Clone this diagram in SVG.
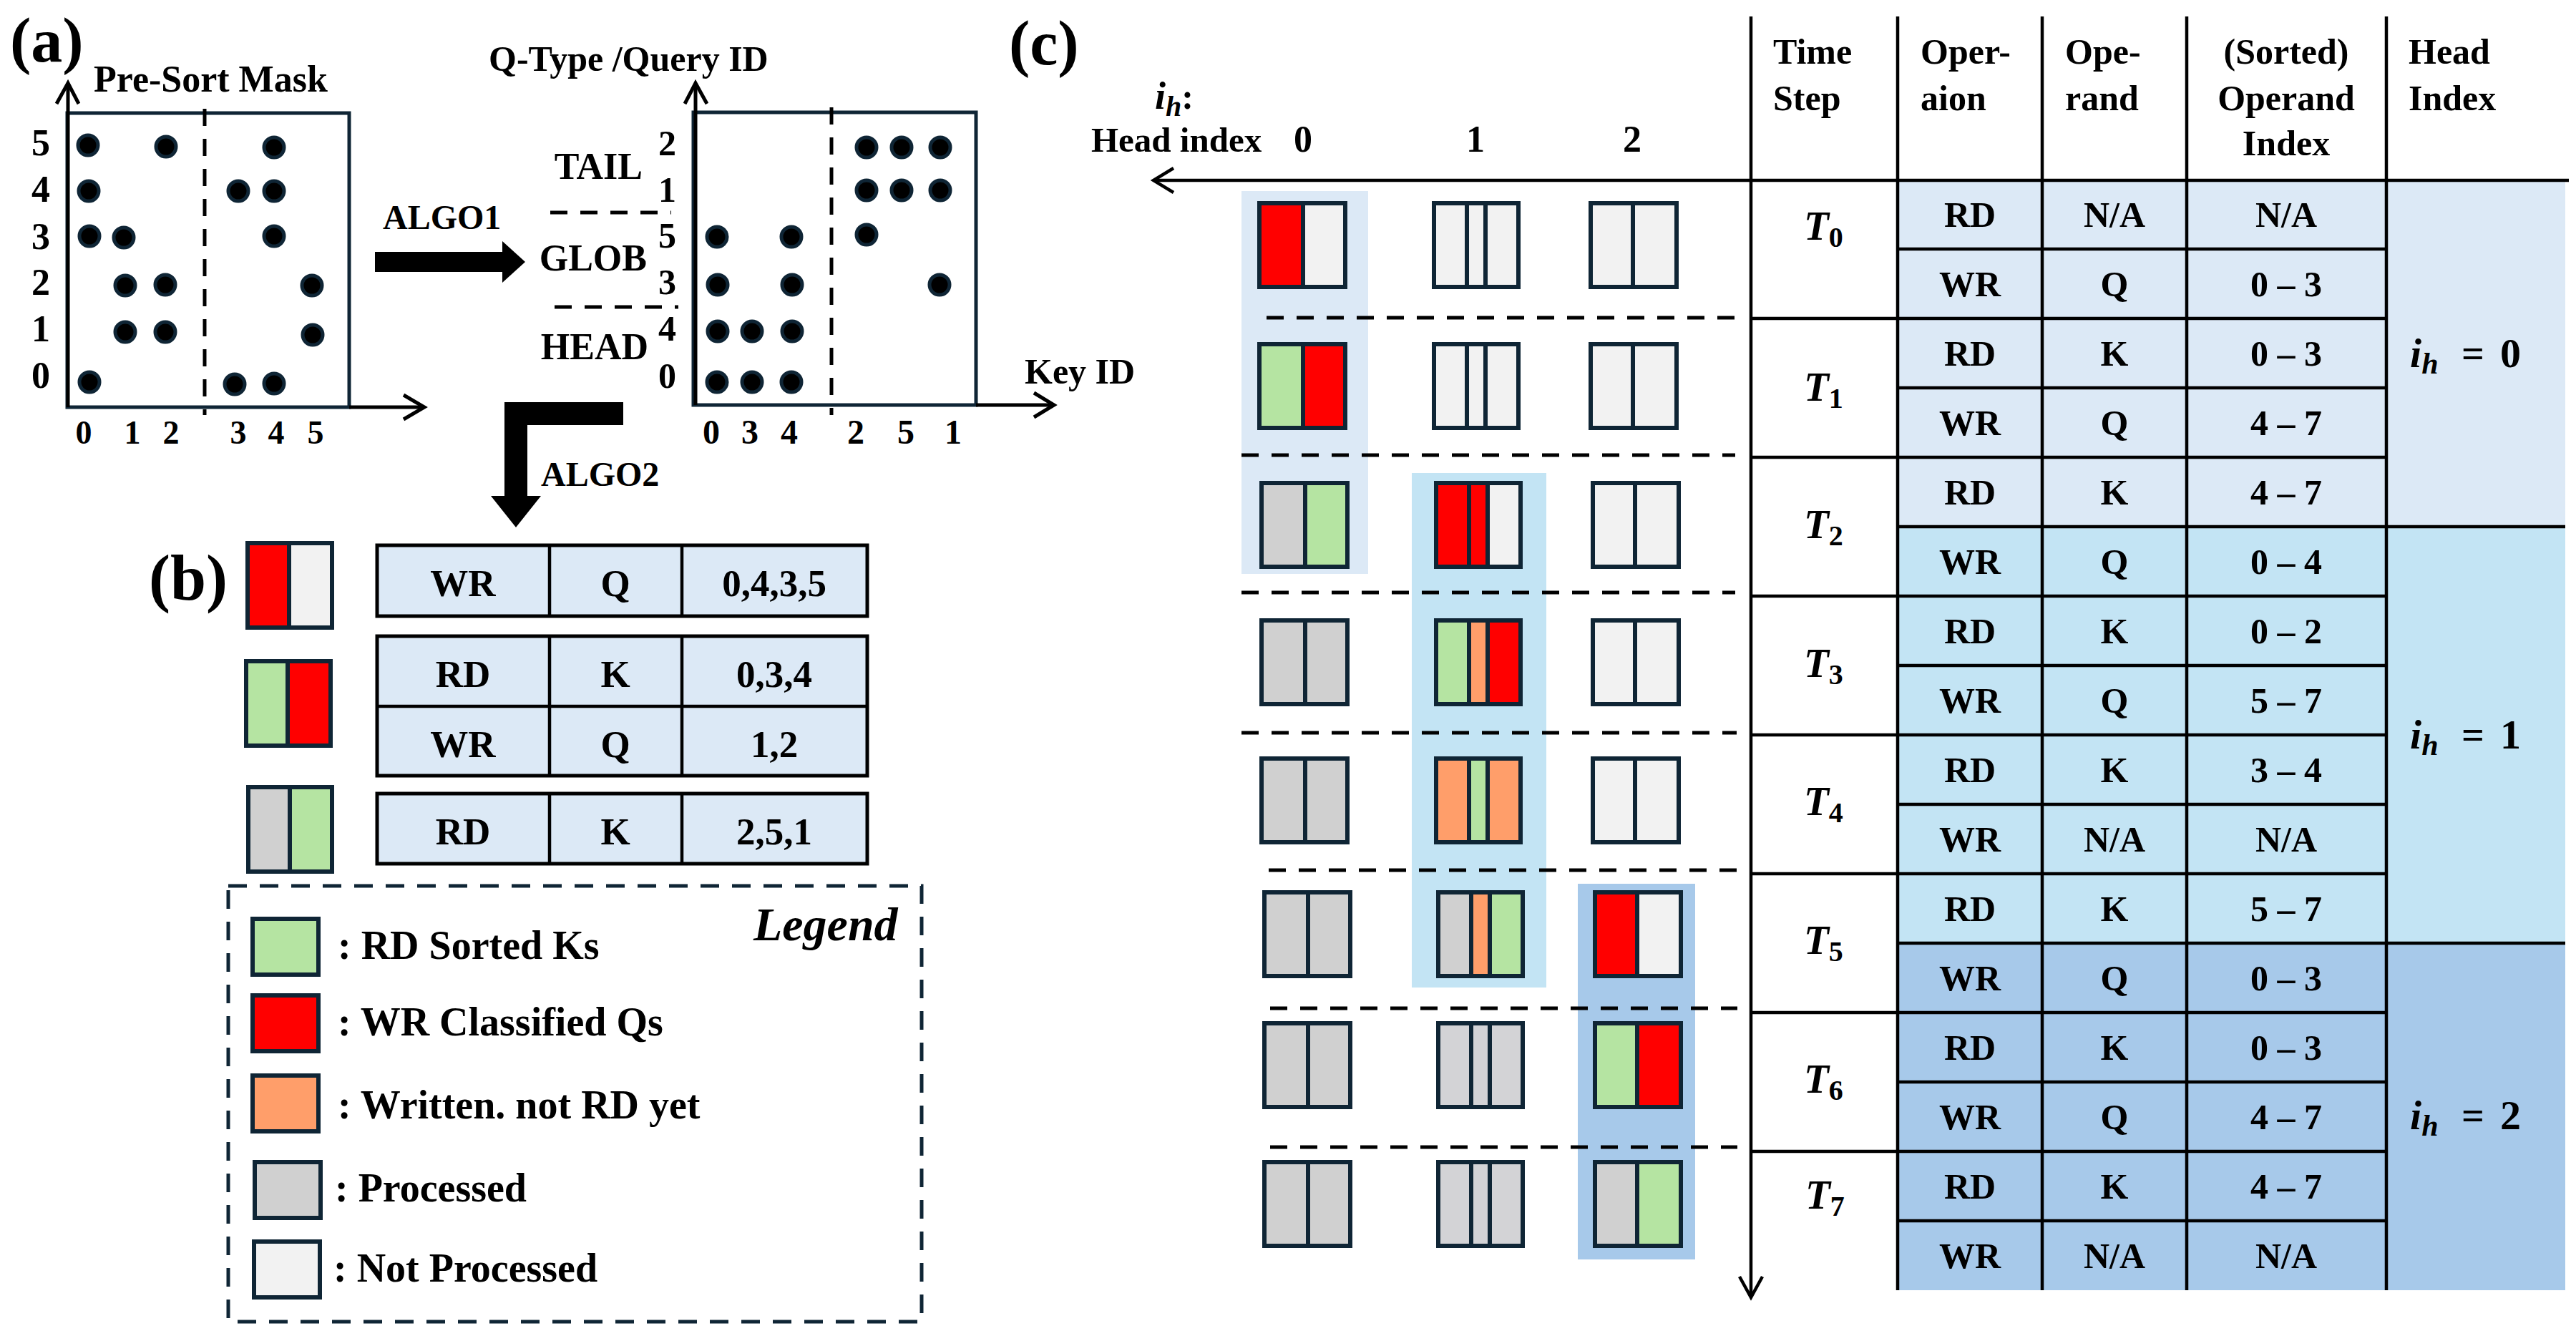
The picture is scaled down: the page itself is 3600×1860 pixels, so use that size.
<svg xmlns="http://www.w3.org/2000/svg" width="3600" height="1860" viewBox="0 0 3600 1860">
<style>
.t{font-family:"Liberation Serif","Times New Roman",serif;font-weight:bold;fill:#000}
.it{font-style:italic}
.m{text-anchor:middle}
.e{text-anchor:end}
.ax{stroke:#000;stroke-width:5;fill:none}
.box{stroke:#0f2535;stroke-width:5;fill:none}
.dash{stroke:#000;stroke-width:5;stroke-dasharray:24 18;fill:none}
.dot{fill:#000;stroke:#0f2535;stroke-width:5}
.cb{stroke:#0f2535;stroke-width:6;fill:none}
.R{fill:#ff0000}.L{fill:#f2f2f2}.G{fill:#b5e4a2}.O{fill:#ff9e6a}.Y{fill:#d0d0d0}
.tl{stroke:#000;stroke-width:4.5;fill:none}
.b1{fill:#dce9f6}.b2{fill:#c3e4f4}.b3{fill:#a7c9ea}
</style>
<rect width="3600" height="1860" fill="#fff"/>

<!-- panel labels -->
<text class="t" x="14" y="86" font-size="88">(a)</text>
<text class="t" x="208" y="838" font-size="90">(b)</text>
<text class="t" x="1410" y="90" font-size="88">(c)</text>

<!-- (a) Pre-sort mask -->
<g id="presort-mask">
<text class="t" x="131" y="128" font-size="52">Pre-Sort Mask</text>
<rect class="box" x="94" y="158" width="394" height="411"/>
<line class="ax" x1="95" y1="569" x2="95" y2="117"/>
<polyline class="ax" points="79,145 95,116 110,145"/>
<line class="ax" x1="488" y1="569" x2="592" y2="569"/>
<polyline class="ax" points="564,552 593,569 564,586"/>
<line class="dash" x1="286" y1="152" x2="286" y2="580"/>
<g class="t m" font-size="52">
<text x="57" y="217">5</text><text x="57" y="282">4</text><text x="57" y="348">3</text>
<text x="57" y="412">2</text><text x="57" y="477">1</text><text x="57" y="542">0</text>
</g>
<g class="t m" font-size="46">
<text x="117" y="620">0</text><text x="185" y="620">1</text><text x="239" y="620">2</text>
<text x="333" y="620">3</text><text x="386" y="620">4</text><text x="441" y="620">5</text>
</g>
<g>
<circle class="dot" cx="123" cy="203" r="14"/><circle class="dot" cx="232" cy="205" r="14"/><circle class="dot" cx="383" cy="206" r="14"/>
<circle class="dot" cx="124" cy="267" r="14"/><circle class="dot" cx="333" cy="267" r="14"/><circle class="dot" cx="383" cy="267" r="14"/>
<circle class="dot" cx="125" cy="330" r="14"/><circle class="dot" cx="173" cy="332" r="14"/><circle class="dot" cx="383" cy="330" r="14"/>
<circle class="dot" cx="175" cy="399" r="14"/><circle class="dot" cx="231" cy="398" r="14"/><circle class="dot" cx="436" cy="399" r="14"/>
<circle class="dot" cx="175" cy="464" r="14"/><circle class="dot" cx="231" cy="464" r="14"/><circle class="dot" cx="437" cy="468" r="14"/>
<circle class="dot" cx="125" cy="534" r="14"/><circle class="dot" cx="328" cy="537" r="14"/><circle class="dot" cx="383" cy="536" r="14"/>
</g>
</g>

<!-- (a) sorted mask -->
<g id="sorted-mask">
<text class="t" x="683" y="99" font-size="50">Q-Type /Query ID</text>
<rect class="box" x="969" y="157" width="395" height="409"/>
<line class="ax" x1="972" y1="566" x2="972" y2="117"/>
<polyline class="ax" points="957,145 972,116 988,145"/>
<line class="ax" x1="1364" y1="566" x2="1472" y2="566"/>
<polyline class="ax" points="1445,549 1473,566 1445,583"/>
<line class="dash" x1="1162" y1="150" x2="1162" y2="580"/>
<text class="t" x="1432" y="536" font-size="50">Key ID</text>
<line class="dash" x1="769" y1="297" x2="938" y2="297" stroke-dasharray="6 18 24 18 24 18 24 18 24 18"/>
<line class="dash" x1="775" y1="429" x2="948" y2="429" stroke-dasharray="6 18 24 18 24 18 24 18 24 18"/>
<text class="t e" x="898" y="250" font-size="52">TAIL</text>
<text class="t e" x="904" y="378" font-size="52">GLOB</text>
<text class="t e" x="906" y="502" font-size="52">HEAD</text>
<g class="t e" font-size="50">
<text x="945" y="217">2</text><text x="945" y="282">1</text><text x="945" y="346">5</text>
<text x="945" y="411">3</text><text x="945" y="476">4</text><text x="945" y="542">0</text>
</g>
<g class="t m" font-size="48">
<text x="994" y="620">0</text><text x="1048" y="620">3</text><text x="1103" y="620">4</text>
<text x="1196" y="620">2</text><text x="1266" y="620">5</text><text x="1332" y="620">1</text>
</g>
<g>
<circle class="dot" cx="1211" cy="206" r="14"/><circle class="dot" cx="1260" cy="206" r="14"/><circle class="dot" cx="1314" cy="206" r="14"/>
<circle class="dot" cx="1211" cy="266" r="14"/><circle class="dot" cx="1260" cy="266" r="14"/><circle class="dot" cx="1314" cy="266" r="14"/>
<circle class="dot" cx="1002" cy="331" r="14"/><circle class="dot" cx="1106" cy="331" r="14"/><circle class="dot" cx="1211" cy="328" r="14"/>
<circle class="dot" cx="1003" cy="398" r="14"/><circle class="dot" cx="1107" cy="398" r="14"/><circle class="dot" cx="1313" cy="398" r="14"/>
<circle class="dot" cx="1003" cy="463" r="14"/><circle class="dot" cx="1051" cy="463" r="14"/><circle class="dot" cx="1107" cy="463" r="14"/>
<circle class="dot" cx="1002" cy="534" r="14"/><circle class="dot" cx="1051" cy="534" r="14"/><circle class="dot" cx="1106" cy="534" r="14"/>
</g>
</g>

<!-- block arrows -->
<g id="connectors">
<polygon fill="#000" points="524,352 702,352 702,337 734,366 702,395 702,380 524,380"/>
<text class="t" x="535" y="320" font-size="48">ALGO1</text>
<polygon fill="#000" points="871,562 705,562 705,693 686,693 721,737 756,693 737,693 737,594 871,594"/>
<text class="t" x="756" y="679" font-size="48">ALGO2</text>
</g>

<!-- (b) -->
<g id="b-row1">
<rect class="R" x="346" y="759" width="58" height="118"/><rect class="L" x="404" y="759" width="60" height="118"/>
<rect class="cb" x="346" y="759" width="118" height="118"/><line class="cb" x1="404" y1="759" x2="404" y2="877"/>
<rect class="b1" x="527" y="762" width="685" height="99" stroke="#000" stroke-width="5"/>
<line class="tl" x1="768" y1="762" x2="768" y2="861"/><line class="tl" x1="953" y1="762" x2="953" y2="861"/>
<g class="t m" font-size="53"><text x="647" y="833">WR</text><text x="860" y="833">Q</text><text x="1082" y="833">0,4,3,5</text></g>
</g>
<g id="b-row2">
<rect class="G" x="344" y="924" width="58" height="118"/><rect class="R" x="402" y="924" width="60" height="118"/>
<rect class="cb" x="344" y="924" width="118" height="118"/><line class="cb" x1="402" y1="924" x2="402" y2="1042"/>
<rect class="b1" x="527" y="889" width="685" height="195" stroke="#000" stroke-width="5"/>
<line class="tl" x1="768" y1="889" x2="768" y2="1084"/><line class="tl" x1="953" y1="889" x2="953" y2="1084"/>
<line class="tl" x1="527" y1="987" x2="1212" y2="987"/>
<g class="t m" font-size="53"><text x="647" y="960">RD</text><text x="860" y="960">K</text><text x="1082" y="960">0,3,4</text>
<text x="647" y="1058">WR</text><text x="860" y="1058">Q</text><text x="1082" y="1058">1,2</text></g>
</g>
<g id="b-row3">
<rect class="Y" x="347" y="1100" width="58" height="118"/><rect class="G" x="405" y="1100" width="59" height="118"/>
<rect class="cb" x="347" y="1100" width="117" height="118"/><line class="cb" x1="405" y1="1100" x2="405" y2="1218"/>
<rect class="b1" x="527" y="1109" width="685" height="98" stroke="#000" stroke-width="5"/>
<line class="tl" x1="768" y1="1109" x2="768" y2="1207"/><line class="tl" x1="953" y1="1109" x2="953" y2="1207"/>
<g class="t m" font-size="53"><text x="647" y="1180">RD</text><text x="860" y="1180">K</text><text x="1082" y="1180">2,5,1</text></g>
</g>

<!-- legend -->
<g id="legend">
<rect x="319" y="1238" width="969" height="609" fill="none" stroke="#0f2535" stroke-width="5" stroke-dasharray="26 18"/>
<text class="t it" x="1053" y="1314" font-size="66">Legend</text>
<rect class="G" x="353" y="1284" width="92" height="78"/><rect class="cb" x="353" y="1284" width="92" height="78"/>
<rect class="R" x="353" y="1391" width="92" height="78"/><rect class="cb" x="353" y="1391" width="92" height="78"/>
<rect class="O" x="353" y="1503" width="92" height="78"/><rect class="cb" x="353" y="1503" width="92" height="78"/>
<rect class="Y" x="356" y="1624" width="92" height="78"/><rect class="cb" x="356" y="1624" width="92" height="78"/>
<rect class="L" x="355" y="1735" width="92" height="78"/><rect class="cb" x="355" y="1735" width="92" height="78"/>
<g class="t" font-size="56">
<text x="472" y="1340">: RD Sorted Ks</text>
<text x="472" y="1447">: WR Classified Qs</text>
<text x="472" y="1563">: Written. not RD yet</text>
<text x="468" y="1679">: Processed</text>
<text x="466" y="1791">: Not Processed</text>
</g>
</g>

<!-- (c) head-index grid -->
<g id="head-axis">
<text class="t it" x="1614" y="152" font-size="54">i<tspan font-size="40" dy="10">h</tspan><tspan font-style="normal" font-size="50" dy="-10">:</tspan></text>
<text class="t" x="1525" y="212" font-size="49">Head index</text>
<g class="t m" font-size="52"><text x="1821" y="212">0</text><text x="2062" y="212">1</text><text x="2281" y="212">2</text></g>
</g>
<g id="head-bands">
<rect class="b1" x="1735" y="267" width="177" height="535"/>
<rect class="b2" x="1973" y="661" width="188" height="719"/>
<rect class="b3" x="2205" y="1235" width="164" height="525"/>
</g>
<g id="step-dividers">
<line class="dash" x1="1770" y1="444" x2="2425" y2="444"/>
<line class="dash" x1="1735" y1="636" x2="2425" y2="636"/>
<line class="dash" x1="1735" y1="828" x2="2425" y2="828"/>
<line class="dash" x1="1735" y1="1024" x2="2427" y2="1024"/>
<line class="dash" x1="1773" y1="1216" x2="2428" y2="1216"/>
<line class="dash" x1="1775" y1="1409" x2="2428" y2="1409"/>
<line class="dash" x1="1775" y1="1603" x2="2428" y2="1603"/>
</g>

<g id="cells-row0">
<g transform="translate(1760,284)"><rect class="R" width="61" height="117"/><rect class="L" x="61" width="59" height="117"/><rect class="cb" width="120" height="117"/><line class="cb" x1="61" x2="61" y2="117"/></g>
<g transform="translate(2004,284)"><rect class="L" width="118" height="117"/><rect class="cb" width="118" height="117"/><line class="cb" x1="46" x2="46" y2="117"/><line class="cb" x1="72" x2="72" y2="117"/></g>
<g transform="translate(2223,284)"><rect class="L" width="120" height="117"/><rect class="cb" width="120" height="117"/><line class="cb" x1="59" x2="59" y2="117"/></g>
</g>
<g id="cells-row1">
<g transform="translate(1760,481)"><rect class="G" width="61" height="117"/><rect class="R" x="61" width="59" height="117"/><rect class="cb" width="120" height="117"/><line class="cb" x1="61" x2="61" y2="117"/></g>
<g transform="translate(2004,481)"><rect class="L" width="118" height="117"/><rect class="cb" width="118" height="117"/><line class="cb" x1="46" x2="46" y2="117"/><line class="cb" x1="72" x2="72" y2="117"/></g>
<g transform="translate(2223,481)"><rect class="L" width="120" height="117"/><rect class="cb" width="120" height="117"/><line class="cb" x1="59" x2="59" y2="117"/></g>
</g>
<g id="cells-row2">
<g transform="translate(1763,675)"><rect class="Y" width="61" height="117"/><rect class="G" x="61" width="59" height="117"/><rect class="cb" width="120" height="117"/><line class="cb" x1="61" x2="61" y2="117"/></g>
<g transform="translate(2007,675)"><rect class="R" width="72" height="117"/><rect class="L" x="72" width="46" height="117"/><rect class="cb" width="118" height="117"/><line class="cb" x1="46" x2="46" y2="117"/><line class="cb" x1="72" x2="72" y2="117"/></g>
<g transform="translate(2226,675)"><rect class="L" width="120" height="117"/><rect class="cb" width="120" height="117"/><line class="cb" x1="59" x2="59" y2="117"/></g>
</g>
<g id="cells-row3">
<g transform="translate(1763,867)"><rect class="Y" width="120" height="117"/><rect class="cb" width="120" height="117"/><line class="cb" x1="61" x2="61" y2="117"/></g>
<g transform="translate(2007,867)"><rect class="G" width="46" height="117"/><rect class="O" x="46" width="26" height="117"/><rect class="R" x="72" width="46" height="117"/><rect class="cb" width="118" height="117"/><line class="cb" x1="46" x2="46" y2="117"/><line class="cb" x1="72" x2="72" y2="117"/></g>
<g transform="translate(2226,867)"><rect class="L" width="120" height="117"/><rect class="cb" width="120" height="117"/><line class="cb" x1="59" x2="59" y2="117"/></g>
</g>
<g id="cells-row4">
<g transform="translate(1763,1060)"><rect class="Y" width="120" height="117"/><rect class="cb" width="120" height="117"/><line class="cb" x1="61" x2="61" y2="117"/></g>
<g transform="translate(2007,1060)"><rect class="O" width="46" height="117"/><rect class="G" x="46" width="26" height="117"/><rect class="O" x="72" width="46" height="117"/><rect class="cb" width="118" height="117"/><line class="cb" x1="46" x2="46" y2="117"/><line class="cb" x1="72" x2="72" y2="117"/></g>
<g transform="translate(2226,1060)"><rect class="L" width="120" height="117"/><rect class="cb" width="120" height="117"/><line class="cb" x1="59" x2="59" y2="117"/></g>
</g>
<g id="cells-row5">
<g transform="translate(1767,1247)"><rect class="Y" width="120" height="117"/><rect class="cb" width="120" height="117"/><line class="cb" x1="61" x2="61" y2="117"/></g>
<g transform="translate(2010,1247)"><rect class="Y" width="46" height="117"/><rect class="O" x="46" width="26" height="117"/><rect class="G" x="72" width="46" height="117"/><rect class="cb" width="118" height="117"/><line class="cb" x1="46" x2="46" y2="117"/><line class="cb" x1="72" x2="72" y2="117"/></g>
<g transform="translate(2229,1247)"><rect class="R" width="59" height="117"/><rect class="L" x="59" width="61" height="117"/><rect class="cb" width="120" height="117"/><line class="cb" x1="59" x2="59" y2="117"/></g>
</g>
<g id="cells-row6">
<g transform="translate(1767,1430)"><rect class="Y" width="120" height="117"/><rect class="cb" width="120" height="117"/><line class="cb" x1="61" x2="61" y2="117"/></g>
<g transform="translate(2010,1430)"><rect fill="#d3d3d6" width="118" height="117"/><rect class="cb" width="118" height="117"/><line class="cb" x1="46" x2="46" y2="117"/><line class="cb" x1="72" x2="72" y2="117"/></g>
<g transform="translate(2229,1430)"><rect class="G" width="59" height="117"/><rect class="R" x="59" width="61" height="117"/><rect class="cb" width="120" height="117"/><line class="cb" x1="59" x2="59" y2="117"/></g>
</g>
<g id="cells-row7">
<g transform="translate(1767,1624)"><rect class="Y" width="120" height="117"/><rect class="cb" width="120" height="117"/><line class="cb" x1="61" x2="61" y2="117"/></g>
<g transform="translate(2010,1624)"><rect fill="#d3d3d6" width="118" height="117"/><rect class="cb" width="118" height="117"/><line class="cb" x1="46" x2="46" y2="117"/><line class="cb" x1="72" x2="72" y2="117"/></g>
<g transform="translate(2229,1624)"><rect class="Y" width="59" height="117"/><rect class="G" x="59" width="61" height="117"/><rect class="cb" width="120" height="117"/><line class="cb" x1="59" x2="59" y2="117"/></g>
</g>

<!-- table -->
<g id="schedule-table">
<rect class="b1" x="2652" y="251" width="933" height="485"/>
<rect class="b2" x="2652" y="736" width="933" height="582"/>
<rect class="b3" x="2652" y="1318" width="933" height="485"/>
<g class="tl">
<line x1="2652" y1="23" x2="2652" y2="1803"/><line x1="2854" y1="23" x2="2854" y2="1803"/>
<line x1="3056" y1="23" x2="3056" y2="1803"/><line x1="3335" y1="23" x2="3335" y2="1803"/>
<line x1="2652" y1="348" x2="3335" y2="348"/><line x1="2447" y1="445" x2="3335" y2="445"/>
<line x1="2652" y1="542" x2="3335" y2="542"/><line x1="2447" y1="639" x2="3335" y2="639"/>
<line x1="2652" y1="736" x2="3585" y2="736"/><line x1="2447" y1="833" x2="3335" y2="833"/>
<line x1="2652" y1="930" x2="3335" y2="930"/><line x1="2447" y1="1027" x2="3335" y2="1027"/>
<line x1="2652" y1="1124" x2="3335" y2="1124"/><line x1="2447" y1="1221" x2="3335" y2="1221"/>
<line x1="2652" y1="1318" x2="3585" y2="1318"/><line x1="2447" y1="1415" x2="3335" y2="1415"/>
<line x1="2652" y1="1512" x2="3335" y2="1512"/><line x1="2447" y1="1609" x2="3335" y2="1609"/>
<line x1="2652" y1="1706" x2="3335" y2="1706"/>
</g>
<g class="t" font-size="50">
<text x="2478" y="89">Time</text><text x="2478" y="154">Step</text>
<text x="2684" y="89">Oper-</text><text x="2684" y="154">aion</text>
<text x="2886" y="89">Ope-</text><text x="2886" y="154">rand</text>
<text class="m" x="3195" y="89">(Sorted)</text><text class="m" x="3195" y="154">Operand</text><text class="m" x="3195" y="217">Index</text>
<text x="3366" y="89">Head</text><text x="3366" y="154">Index</text>
</g>
<g class="t m" font-size="50">
<text x="2753" y="317">RD</text><text x="2955" y="317">N/A</text><text x="3195" y="317">N/A</text>
<text x="2753" y="414">WR</text><text x="2955" y="414">Q</text><text x="3195" y="414">0 – 3</text>
<text x="2753" y="511">RD</text><text x="2955" y="511">K</text><text x="3195" y="511">0 – 3</text>
<text x="2753" y="608">WR</text><text x="2955" y="608">Q</text><text x="3195" y="608">4 – 7</text>
<text x="2753" y="705">RD</text><text x="2955" y="705">K</text><text x="3195" y="705">4 – 7</text>
<text x="2753" y="802">WR</text><text x="2955" y="802">Q</text><text x="3195" y="802">0 – 4</text>
<text x="2753" y="899">RD</text><text x="2955" y="899">K</text><text x="3195" y="899">0 – 2</text>
<text x="2753" y="996">WR</text><text x="2955" y="996">Q</text><text x="3195" y="996">5 – 7</text>
<text x="2753" y="1093">RD</text><text x="2955" y="1093">K</text><text x="3195" y="1093">3 – 4</text>
<text x="2753" y="1190">WR</text><text x="2955" y="1190">N/A</text><text x="3195" y="1190">N/A</text>
<text x="2753" y="1287">RD</text><text x="2955" y="1287">K</text><text x="3195" y="1287">5 – 7</text>
<text x="2753" y="1384">WR</text><text x="2955" y="1384">Q</text><text x="3195" y="1384">0 – 3</text>
<text x="2753" y="1481">RD</text><text x="2955" y="1481">K</text><text x="3195" y="1481">0 – 3</text>
<text x="2753" y="1578">WR</text><text x="2955" y="1578">Q</text><text x="3195" y="1578">4 – 7</text>
<text x="2753" y="1675">RD</text><text x="2955" y="1675">K</text><text x="3195" y="1675">4 – 7</text>
<text x="2753" y="1772">WR</text><text x="2955" y="1772">N/A</text><text x="3195" y="1772">N/A</text>
</g>
<g class="t it" font-size="57">
<text x="2521" y="335">T<tspan font-style="normal" font-size="40" dy="10">0</tspan></text>
<text x="2521" y="560">T<tspan font-style="normal" font-size="40" dy="10">1</tspan></text>
<text x="2521" y="752">T<tspan font-style="normal" font-size="40" dy="10">2</tspan></text>
<text x="2521" y="946">T<tspan font-style="normal" font-size="40" dy="10">3</tspan></text>
<text x="2521" y="1139">T<tspan font-style="normal" font-size="40" dy="10">4</tspan></text>
<text x="2521" y="1333">T<tspan font-style="normal" font-size="40" dy="10">5</tspan></text>
<text x="2521" y="1527">T<tspan font-style="normal" font-size="40" dy="10">6</tspan></text>
<text x="2523" y="1689">T<tspan font-style="normal" font-size="40" dy="10">7</tspan></text>
</g>
<g class="t it" font-size="58">
<text x="3368" y="513">i<tspan font-size="42" dy="9">h</tspan><tspan font-style="normal" font-size="56" x="3440" dy="-9">=</tspan><tspan font-style="normal" font-size="58" x="3494">0</tspan></text>
<text x="3368" y="1046">i<tspan font-size="42" dy="9">h</tspan><tspan font-style="normal" font-size="56" x="3440" dy="-9">=</tspan><tspan font-style="normal" font-size="58" x="3494">1</tspan></text>
<text x="3368" y="1578">i<tspan font-size="42" dy="9">h</tspan><tspan font-style="normal" font-size="56" x="3440" dy="-9">=</tspan><tspan font-style="normal" font-size="58" x="3494">2</tspan></text>
</g>
</g>

<!-- axes of (c) -->
<g id="c-axes">
<line class="tl" x1="3590" y1="252" x2="1614" y2="252"/>
<polyline class="tl" points="1640,235 1612,252 1640,269"/>
<line class="tl" x1="2447" y1="23" x2="2447" y2="1812"/>
<polyline class="tl" points="2431,1784 2447,1813 2463,1784"/>
</g>
</svg>
